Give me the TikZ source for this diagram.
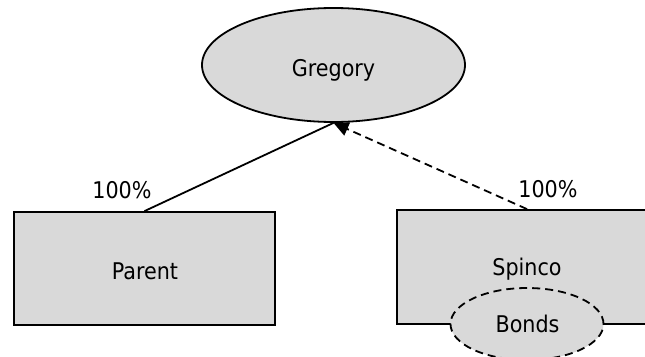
\documentclass[tikz,border=0pt]{standalone}
\usepackage{fontspec}
\setmainfont{DejaVu Sans Condensed}
\usetikzlibrary{shapes.geometric,arrows.meta}

\definecolor{boxgray}{HTML}{D9D9D9}

\tikzset{
  entity/.style={draw=black, line width=1.8pt, fill=boxgray, inner sep=0pt},
  boxnode/.style={entity, rectangle},
  ovalnode/.style={entity, ellipse},
  caption/.style={font=\fontsize{23}{27}\selectfont, inner sep=0pt},
  owns/.style={line width=1.8pt},
  dashpat/.style={dash pattern=on 8pt off 5pt},
}

\begin{document}
\begin{tikzpicture}[x=1pt, y=-1pt]
  \useasboundingbox (0,0) rectangle (645,356);

  % entities
  \node[ovalnode, minimum width=263pt, minimum height=114pt] (gregory) at (333.5,65) {};
  \node[caption] (gregorytext) at (333.5,70) {Gregory};
  \node[boxnode, minimum width=261pt, minimum height=113pt] (parent) at (144.5,268.5) {};
  \node[caption] (parenttext) at (145,271) {Parent};
  \node[boxnode, minimum width=260pt, minimum height=114pt] (spinco) at (527,267) {};
  \node[caption] (spincotext) at (527,269.5) {Spinco};
  \node[ovalnode, dashpat, minimum width=153pt, minimum height=72pt] (bonds) at (527,324) {};
  \node[caption] (bondstext) at (527.5,323.5) {Bonds};

  % ownership links
  \draw[owns] (parent.north) -- (gregory.south);
  \draw[owns, dashpat, -{Triangle[length=15pt, width=14pt]}] (spinco.north) -- (gregory.south);

  % percentages
  \node[caption] (pleft) at (122,190) {100\%};
  \node[caption] (pright) at (548,189) {100\%};
\end{tikzpicture}
\end{document}
